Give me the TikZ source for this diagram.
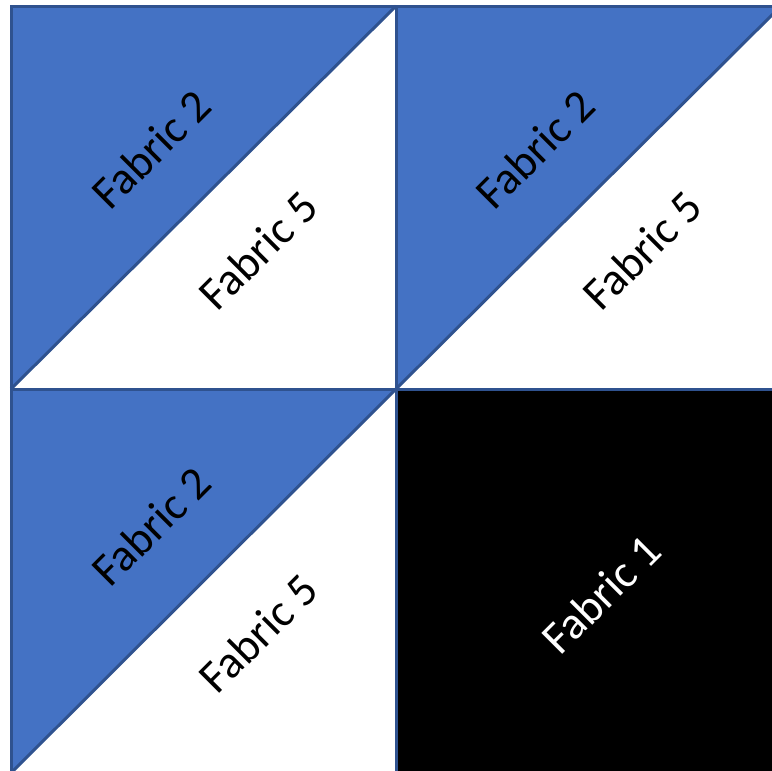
\documentclass[tikz,border=0pt]{standalone}
\usepackage{fontspec}
\setmainfont{Carlito}
\definecolor{fabblue}{HTML}{4472C4}
\definecolor{edgeblue}{HTML}{2F528F}
\tikzset{
  patch/.style={draw=edgeblue, line width=3pt, line join=miter},
  lbl/.style={rotate=45, font=\fontsize{46}{55}\selectfont, inner sep=0pt, anchor=center},
}
\begin{document}
\begin{tikzpicture}[x=1pt,y=-1pt]
\useasboundingbox (0,0) rectangle (772,771);
\clip (0,0) rectangle (772,771);
\fill[white] (0,0) rectangle (772,771);
% corners
\coordinate (a1) at (11,6);
\coordinate (a2) at (396,6);
\coordinate (a3) at (781,6);
\coordinate (b1) at (11,389);
\coordinate (b2) at (396,389);
\coordinate (b3) at (781,389);
\coordinate (c1) at (11,773);
\coordinate (c2) at (396,773);
\coordinate (c3) at (781,773);
% square A
\fill[fabblue] (a1) -- (a2) -- (b1) -- cycle;
\draw[patch] (a1) rectangle (b2);
\draw[patch] (b1) -- (a2);
% square B
\fill[fabblue] (a2) -- (a3) -- (b2) -- cycle;
\draw[patch] (a2) rectangle (b3);
\draw[patch] (b2) -- (a3);
% square C
\fill[fabblue] (b1) -- (b2) -- (c1) -- cycle;
\draw[patch] (b1) rectangle (c2);
\draw[patch] (c1) -- (b2);
% square D
\fill[black] (b2) rectangle (c3);
\draw[patch] (b2) rectangle (c3);
% labels
\node[lbl] (tA2) at (151,149) {Fabric 2};
\node[lbl] (tA5) at (258,250) {Fabric 5};
\node[lbl] (tB2) at (535,149) {Fabric 2};
\node[lbl] (tB5) at (642,250) {Fabric 5};
\node[lbl] (tC2) at (151,526) {Fabric 2};
\node[lbl] (tC5) at (258,633) {Fabric 5};
\node[lbl, text=white] (tD1) at (601,594) {Fabric 1};
\end{tikzpicture}
\end{document}
